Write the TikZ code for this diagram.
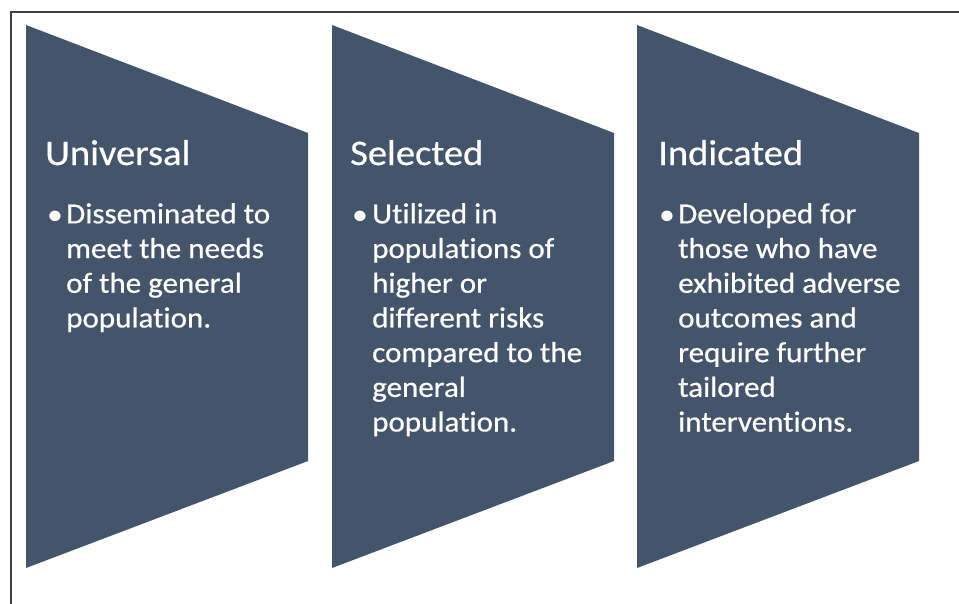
\documentclass[tikz,border=0pt]{standalone}
\usepackage{fontspec}
\setmainfont{Carlito}[Ligatures=NoCommon, FakeStretch=1.07, FakeBold=0.6]
\usetikzlibrary{positioning}
\usepackage{xcolor}
\definecolor{panelblue}{HTML}{44546A}
\definecolor{framegray}{HTML}{3F3F3F}

\begin{document}
\begin{tikzpicture}[x=1pt,y=-1pt]
      \tikzstyle{panel} = [fill=panelblue]
      \tikzstyle{heading} = [anchor=base west, inner sep=0pt, text=white, font=\fontsize{36}{42}\selectfont]
      \tikzstyle{dot} = [anchor=base west, inner sep=0pt, text=white, font=\fontsize{29}{34.7}\selectfont]
      \tikzstyle{itemtext} = [anchor=north west, inner sep=0pt, text=white, align=left, font=\fontsize{29}{34.7}\selectfont]

      \useasboundingbox (0,0) rectangle (959,603);
      \draw[framegray, line width=2.5pt] (11,620) -- (11,12) -- (975,12);

      % three panels
      \foreach \x in {26,332,637} {
        \fill[panel] (\x,25) -- ++(282,108) -- ++(0,328) -- ++(-282,107) -- cycle;
      }

      \node[heading] (univ) at (45,165) {Universal};
      \node[dot] (b1) at (47,224) {\textbullet};
      \node[itemtext] (t1) at (66,203) {Disseminated to\\meet the needs\\of the general\\population.};

      \node[heading] (sel) at (350,165) {Selected};
      \node[dot] (b2) at (352,224) {\textbullet};
      \node[itemtext] (t2) at (372,203) {Utilized in\\populations of\\higher or\\different risks\\compared to the\\general\\population.};

      \node[heading] (ind) at (658,165) {Indicated};
      \node[dot] (b3) at (659,224) {\textbullet};
      \node[itemtext] (t3) at (678,203) {Developed for\\those who have\\exhibited adverse\\outcomes and\\require further\\tailored\\interventions.};
    \end{tikzpicture}
\end{document}
